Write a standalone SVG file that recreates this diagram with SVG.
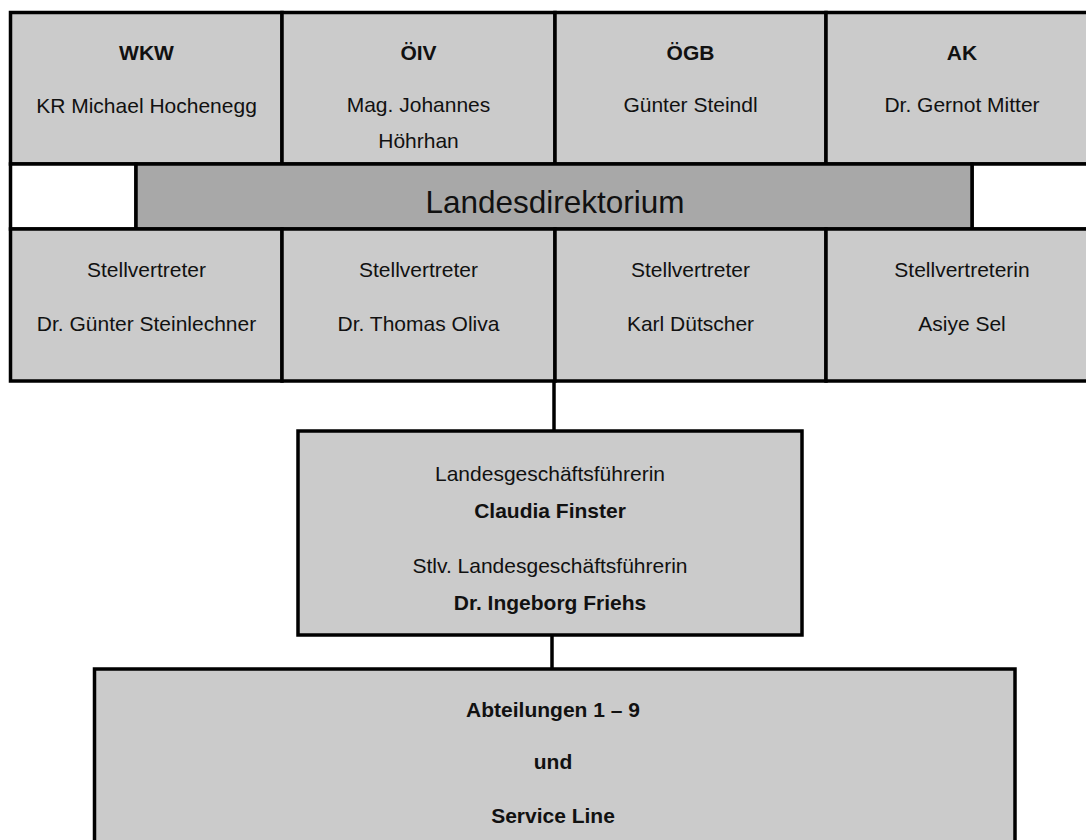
<svg xmlns="http://www.w3.org/2000/svg" width="1086" height="840" viewBox="0 0 1086 840">
<style>
.cell{fill:#cbcbcb;stroke:#000;stroke-width:3.5}
.band{fill:#a8a8a8;stroke:#000;stroke-width:3.5}
.blank{fill:#fff;stroke:#000;stroke-width:3.5}
text{font-family:"Liberation Sans",Arial,sans-serif;font-size:21px;fill:#111;text-anchor:middle}
.b{font-weight:bold}
.big{font-size:31.5px}
.conn{stroke:#000;stroke-width:3.5;fill:none}
</style>
<rect width="1086" height="840" fill="#fff"/>
<g id="wkw"><rect class="cell" x="10.5" y="12.5" width="271.5" height="151.5"/><text class="b" x="146.5" y="60">WKW</text><text x="146.5" y="113">KR Michael Hochenegg</text></g>
<g id="oiv"><rect class="cell" x="282" y="12.5" width="273" height="151.5"/><text class="b" x="418.5" y="60">ÖIV</text><text x="418.5" y="112">Mag. Johannes</text><text x="418.5" y="148">Höhrhan</text></g>
<g id="ogb"><rect class="cell" x="555" y="12.5" width="271" height="151.5"/><text class="b" x="690.5" y="60">ÖGB</text><text x="690.5" y="112">Günter Steindl</text></g>
<g id="ak"><rect class="cell" x="826" y="12.5" width="272" height="151.5"/><text class="b" x="962" y="60">AK</text><text x="962" y="112">Dr. Gernot Mitter</text></g>
<g id="landesdirektorium"><rect class="blank" x="10.5" y="164" width="125.5" height="65"/><rect class="blank" x="972" y="164" width="126" height="65"/><rect class="band" x="136" y="164" width="836" height="65"/><text class="big" x="555" y="213">Landesdirektorium</text></g>
<g id="stv1"><rect class="cell" x="10.5" y="229" width="271.5" height="152"/><text x="146.5" y="277">Stellvertreter</text><text x="146.5" y="331">Dr. Günter Steinlechner</text></g>
<g id="stv2"><rect class="cell" x="282" y="229" width="273" height="152"/><text x="418.5" y="277">Stellvertreter</text><text x="418.5" y="331">Dr. Thomas Oliva</text></g>
<g id="stv3"><rect class="cell" x="555" y="229" width="271" height="152"/><text x="690.5" y="277">Stellvertreter</text><text x="690.5" y="331">Karl Dütscher</text></g>
<g id="stv4"><rect class="cell" x="826" y="229" width="272" height="152"/><text x="962" y="277">Stellvertreterin</text><text x="962" y="331">Asiye Sel</text></g>
<g id="connectors"><line class="conn" x1="554" y1="381" x2="554" y2="431"/><line class="conn" x1="552" y1="635" x2="552" y2="669"/></g>
<g id="geschaeftsfuehrung"><rect class="cell" x="298" y="431" width="504" height="204"/><text x="550" y="481">Landesgeschäftsführerin</text><text class="b" x="550" y="518">Claudia Finster</text><text x="550" y="573">Stlv. Landesgeschäftsführerin</text><text class="b" x="550" y="610">Dr. Ingeborg Friehs</text></g>
<g id="abteilungen"><rect class="cell" x="94.5" y="669" width="920.5" height="200"/><text class="b" x="553" y="717">Abteilungen 1 – 9</text><text class="b" x="553" y="769">und</text><text class="b" x="553" y="823">Service Line</text></g>
</svg>
